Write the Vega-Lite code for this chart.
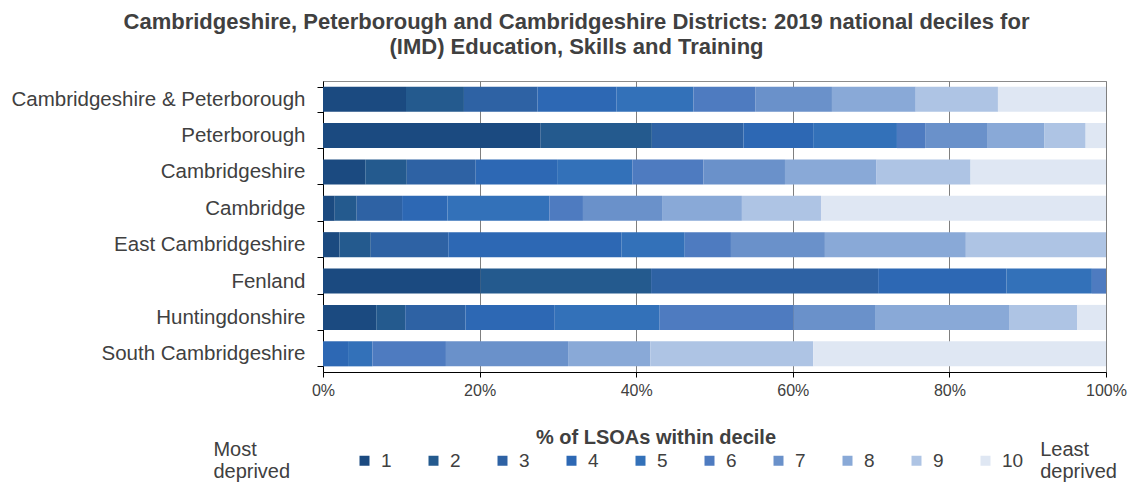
{
  "$schema": "https://vega.github.io/schema/vega-lite/v6.json",
  "autosize": "none",
  "width": 783,
  "height": 291,
  "padding": {"left": 323, "top": 81, "right": 24, "bottom": 112},
  "background": "white",
  "config": {"font": "Liberation Sans", "view": {"stroke": "#8c8c8c", "strokeWidth": 1}},
  "title": {
    "text": ["Cambridgeshire, Peterborough and Cambridgeshire Districts: 2019 national deciles for", "(IMD) Education, Skills and Training"],
    "fontSize": 22, "fontWeight": "bold", "color": "#404040",
    "anchor": "middle", "frame": "group", "dx": -138, "offset": 12, "lineHeight": 25
  },
  "data": {"values": [
    {"area": "Cambridgeshire & Peterborough", "decile": 1, "pct": 10.6},
    {"area": "Cambridgeshire & Peterborough", "decile": 2, "pct": 7.4},
    {"area": "Cambridgeshire & Peterborough", "decile": 3, "pct": 9.4},
    {"area": "Cambridgeshire & Peterborough", "decile": 4, "pct": 10.1},
    {"area": "Cambridgeshire & Peterborough", "decile": 5, "pct": 9.8},
    {"area": "Cambridgeshire & Peterborough", "decile": 6, "pct": 7.9},
    {"area": "Cambridgeshire & Peterborough", "decile": 7, "pct": 9.8},
    {"area": "Cambridgeshire & Peterborough", "decile": 8, "pct": 10.7},
    {"area": "Cambridgeshire & Peterborough", "decile": 9, "pct": 10.5},
    {"area": "Cambridgeshire & Peterborough", "decile": 10, "pct": 13.8},
    {"area": "Peterborough", "decile": 1, "pct": 27.8},
    {"area": "Peterborough", "decile": 2, "pct": 14.2},
    {"area": "Peterborough", "decile": 3, "pct": 11.7},
    {"area": "Peterborough", "decile": 4, "pct": 8.9},
    {"area": "Peterborough", "decile": 5, "pct": 10.7},
    {"area": "Peterborough", "decile": 6, "pct": 3.6},
    {"area": "Peterborough", "decile": 7, "pct": 8.0},
    {"area": "Peterborough", "decile": 8, "pct": 7.2},
    {"area": "Peterborough", "decile": 9, "pct": 5.3},
    {"area": "Peterborough", "decile": 10, "pct": 2.6},
    {"area": "Cambridgeshire", "decile": 1, "pct": 5.4},
    {"area": "Cambridgeshire", "decile": 2, "pct": 5.3},
    {"area": "Cambridgeshire", "decile": 3, "pct": 8.8},
    {"area": "Cambridgeshire", "decile": 4, "pct": 10.4},
    {"area": "Cambridgeshire", "decile": 5, "pct": 9.6},
    {"area": "Cambridgeshire", "decile": 6, "pct": 9.1},
    {"area": "Cambridgeshire", "decile": 7, "pct": 10.4},
    {"area": "Cambridgeshire", "decile": 8, "pct": 11.7},
    {"area": "Cambridgeshire", "decile": 9, "pct": 12.0},
    {"area": "Cambridgeshire", "decile": 10, "pct": 17.3},
    {"area": "Cambridge", "decile": 1, "pct": 1.5},
    {"area": "Cambridge", "decile": 2, "pct": 2.8},
    {"area": "Cambridge", "decile": 3, "pct": 5.8},
    {"area": "Cambridge", "decile": 4, "pct": 5.8},
    {"area": "Cambridge", "decile": 5, "pct": 13.0},
    {"area": "Cambridge", "decile": 6, "pct": 4.3},
    {"area": "Cambridge", "decile": 7, "pct": 10.1},
    {"area": "Cambridge", "decile": 8, "pct": 10.2},
    {"area": "Cambridge", "decile": 9, "pct": 10.1},
    {"area": "Cambridge", "decile": 10, "pct": 36.4},
    {"area": "East Cambridgeshire", "decile": 1, "pct": 2.1},
    {"area": "East Cambridgeshire", "decile": 2, "pct": 4.0},
    {"area": "East Cambridgeshire", "decile": 3, "pct": 9.9},
    {"area": "East Cambridgeshire", "decile": 4, "pct": 22.1},
    {"area": "East Cambridgeshire", "decile": 5, "pct": 8.1},
    {"area": "East Cambridgeshire", "decile": 6, "pct": 5.9},
    {"area": "East Cambridgeshire", "decile": 7, "pct": 12.0},
    {"area": "East Cambridgeshire", "decile": 8, "pct": 18.0},
    {"area": "East Cambridgeshire", "decile": 9, "pct": 17.9},
    {"area": "East Cambridgeshire", "decile": 10, "pct": 0},
    {"area": "Fenland", "decile": 1, "pct": 20.1},
    {"area": "Fenland", "decile": 2, "pct": 21.8},
    {"area": "Fenland", "decile": 3, "pct": 29.0},
    {"area": "Fenland", "decile": 4, "pct": 16.4},
    {"area": "Fenland", "decile": 5, "pct": 10.9},
    {"area": "Fenland", "decile": 6, "pct": 1.8},
    {"area": "Fenland", "decile": 7, "pct": 0},
    {"area": "Fenland", "decile": 8, "pct": 0},
    {"area": "Fenland", "decile": 9, "pct": 0},
    {"area": "Fenland", "decile": 10, "pct": 0},
    {"area": "Huntingdonshire", "decile": 1, "pct": 6.8},
    {"area": "Huntingdonshire", "decile": 2, "pct": 3.7},
    {"area": "Huntingdonshire", "decile": 3, "pct": 7.7},
    {"area": "Huntingdonshire", "decile": 4, "pct": 11.4},
    {"area": "Huntingdonshire", "decile": 5, "pct": 13.4},
    {"area": "Huntingdonshire", "decile": 6, "pct": 17.1},
    {"area": "Huntingdonshire", "decile": 7, "pct": 10.4},
    {"area": "Huntingdonshire", "decile": 8, "pct": 17.2},
    {"area": "Huntingdonshire", "decile": 9, "pct": 8.6},
    {"area": "Huntingdonshire", "decile": 10, "pct": 3.7},
    {"area": "South Cambridgeshire", "decile": 1, "pct": 0},
    {"area": "South Cambridgeshire", "decile": 2, "pct": 0},
    {"area": "South Cambridgeshire", "decile": 3, "pct": 0},
    {"area": "South Cambridgeshire", "decile": 4, "pct": 3.2},
    {"area": "South Cambridgeshire", "decile": 5, "pct": 3.1},
    {"area": "South Cambridgeshire", "decile": 6, "pct": 9.4},
    {"area": "South Cambridgeshire", "decile": 7, "pct": 15.6},
    {"area": "South Cambridgeshire", "decile": 8, "pct": 10.5},
    {"area": "South Cambridgeshire", "decile": 9, "pct": 20.8},
    {"area": "South Cambridgeshire", "decile": 10, "pct": 37.4}
  ]},
  "layer": [
    {
      "mark": {"type": "bar"},
      "encoding": {
        "y": {
          "field": "area", "type": "nominal",
          "sort": ["Cambridgeshire & Peterborough", "Peterborough", "Cambridgeshire", "Cambridge", "East Cambridgeshire", "Fenland", "Huntingdonshire", "South Cambridgeshire"],
          "scale": {"paddingInner": 0.31, "paddingOuter": 0.155},
          "axis": {"title": null, "labelFontSize": 20.5, "labelColor": "#404040", "labelPadding": 12, "tickBand": "extent", "tickSize": 6, "tickColor": "black", "domainColor": "black", "labelLimit": 400}
        },
        "x": {
          "field": "pct", "type": "quantitative", "stack": "zero",
          "scale": {"domain": [0, 100], "nice": false},
          "axis": {"title": null, "values": [0, 20, 40, 60, 80, 100], "labelExpr": "datum.value + '%'", "labelFlush": false, "labelFontSize": 16, "labelColor": "#404040", "grid": true, "gridColor": "#7f7f7f", "tickColor": "black", "domainColor": "black", "tickSize": 5, "labelPadding": 5}
        },
        "color": {
          "field": "decile", "type": "ordinal",
          "scale": {"domain": [1, 2, 3, 4, 5, 6, 7, 8, 9, 10], "range": ["#1b4a80", "#245a8e", "#2e62a4", "#2d68b4", "#3371b9", "#4e7bc0", "#6a91ca", "#89a9d7", "#aec4e4", "#dfe7f3"]},
          "legend": {
            "orient": "none", "legendX": 32, "legendY": 347, "direction": "horizontal", "columns": 10, "gridAlign": "each",
            "title": "% of LSOAs within decile", "titleLimit": 500, "titleFontSize": 20, "titleFontWeight": "bold", "titleColor": "#404040", "titleAnchor": "middle", "titlePadding": 3,
            "labelFontSize": 19, "labelColor": "#404040", "symbolType": "square", "symbolSize": 100, "symbolStrokeWidth": 0,
            "columnPadding": 32, "labelOffset": 7, "padding": 0,
            "encode": {"title": {"update": {"dx": {"value": -33}}}}
          }
        },
        "order": {"field": "decile", "type": "quantitative"}
      }
    },
    {
      "data": {"values": [{}]},
      "mark": {"type": "text", "align": "left", "baseline": "middle", "fontSize": 20, "color": "#404040", "lineHeight": 22},
      "encoding": {
        "x": {"datum": -14, "type": "quantitative", "scale": {"domain": [0, 100], "nice": false}},
        "y": {"datum": -0.268, "type": "quantitative", "scale": {"domain": [0, 1], "nice": false, "zero": false}, "axis": null},
        "text": {"value": ["Most", "deprived"]}
      }
    },
    {
      "data": {"values": [{}]},
      "mark": {"type": "text", "align": "left", "baseline": "middle", "fontSize": 20, "color": "#404040", "lineHeight": 22},
      "encoding": {
        "x": {"datum": 91.6, "type": "quantitative", "scale": {"domain": [0, 100], "nice": false}},
        "y": {"datum": -0.268, "type": "quantitative", "scale": {"domain": [0, 1], "nice": false, "zero": false}, "axis": null},
        "text": {"value": ["Least", "deprived"]}
      }
    }
  ],
  "resolve": {"scale": {"y": "independent"}}
}
